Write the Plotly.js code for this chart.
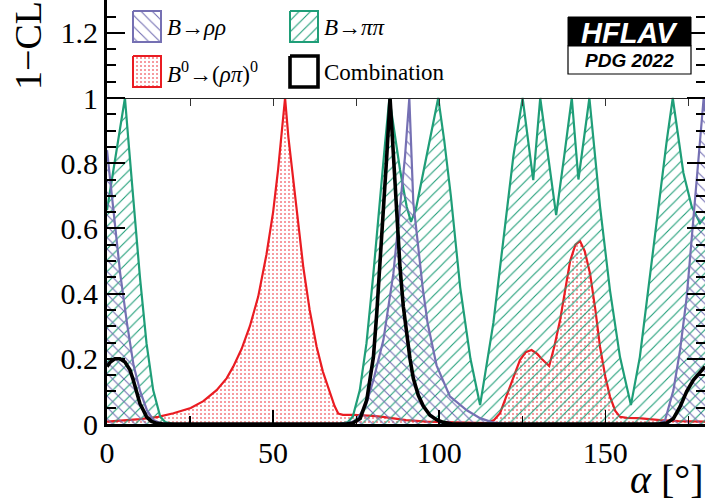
<!DOCTYPE html>
<html>
<head>
<meta charset="utf-8">
<script src="https://cdn.plot.ly/plotly-3.0.1.min.js"></script>
<style>
  html, body { margin: 0; padding: 0; background: #ffffff; }
  #chart { width: 705px; height: 504px; }
</style>
</head>
<body>
<div id="chart"></div>
<script>
// ---- 1-CL scans in alpha (degrees) ----
const pipiAlpha = [0, 1.8, 3.6, 5.4, 6.6, 7.9, 9.9, 11.9, 13.9, 16, 17.5, 20, 70, 72.5, 74, 76.1, 78.1, 80.1, 82.1, 83.6, 85.0, 86.5, 88.2, 90.2, 91.5, 93, 94.2, 97.2, 99.7, 101.5, 103.5, 106.3, 109.4, 112.3, 116.3, 119.3, 122.3, 125.1, 128.3, 130.4, 132.8, 135.2, 137.6, 139.9, 141.9, 145.2, 148.4, 151.4, 154.4, 157.7, 160.4, 163.4, 166.5, 168.5, 170.3, 173.5, 176, 178.5, 180];
const pipiCL = [0.656, 0.77, 0.885, 1.0, 0.85, 0.687, 0.452, 0.247, 0.104, 0.023, 0.006, 0.0, 0.0, 0.006, 0.023, 0.104, 0.247, 0.452, 0.687, 0.85, 1.0, 0.89, 0.78, 0.667, 0.62, 0.66, 0.72, 0.87, 1.0, 0.87, 0.7, 0.42, 0.2, 0.058, 0.31, 0.564, 0.82, 1.0, 0.748, 1.0, 0.82, 0.641, 0.82, 1.0, 0.75, 1.0, 0.667, 0.41, 0.206, 0.058, 0.206, 0.45, 0.72, 0.87, 1.0, 0.77, 0.667, 0.616, 0.636];

const rhorhoAlpha = [0, 2, 4, 6, 8, 10, 12, 14, 16, 18, 70, 73, 75.2, 78, 80.2, 83.2, 86.2, 88.2, 89.7, 91, 92.2, 93.5, 95, 96.5, 99.2, 103.2, 108.3, 112.3, 116, 120, 164, 166.5, 168, 170.5, 172.5, 174.5, 176, 177.5, 179, 179.6, 180];
const rhorhoCL = [0.84, 0.64, 0.46, 0.31, 0.18, 0.1, 0.043, 0.012, 0.003, 0, 0, 0.004, 0.012, 0.06, 0.135, 0.258, 0.462, 0.667, 0.82, 1.0, 0.68, 0.56, 0.42, 0.31, 0.18, 0.085, 0.042, 0.018, 0.005, 0, 0, 0.003, 0.012, 0.104, 0.227, 0.39, 0.564, 0.738, 0.92, 1.0, 0.96];

const rhopiAlpha = [0, 5, 10, 15.4, 20, 25.2, 29, 33, 36, 38, 40.5, 43, 45.5, 48, 50, 51.5, 52.7, 53.6, 54.6, 56.1, 57.5, 59.1, 61, 63.1, 65, 67.1, 68.5, 69.6, 71, 74, 77, 80, 83, 86.2, 90, 96.2, 105, 114.3, 116.5, 118.3, 121.3, 124.3, 126, 127.8, 129.5, 130.8, 133.1, 134.7, 136.4, 138, 139.4, 141, 142.4, 143.8, 145.4, 147, 148.4, 150, 151.4, 153, 154.4, 156.5, 160, 166.5, 172, 180];
const rhopiCL = [0.007, 0.01, 0.015, 0.022, 0.033, 0.049, 0.07, 0.104, 0.14, 0.176, 0.23, 0.30, 0.39, 0.52, 0.65, 0.78, 0.9, 1.0, 0.88, 0.75, 0.61, 0.48, 0.35, 0.237, 0.16, 0.095, 0.055, 0.032, 0.028, 0.028, 0.027, 0.025, 0.022, 0.018, 0.012, 0.007, 0.004, 0.003, 0.012, 0.033, 0.115, 0.196, 0.22, 0.227, 0.215, 0.2, 0.178, 0.24, 0.32, 0.42, 0.50, 0.55, 0.561, 0.53, 0.462, 0.35, 0.237, 0.145, 0.084, 0.04, 0.022, 0.019, 0.018, 0.012, 0.009, 0.007];

const combAlpha = [0, 1, 2.4, 3.9, 5.4, 6.9, 7.9, 8.9, 9.9, 10.9, 11.9, 13.4, 15, 17, 72, 74, 76.2, 78.2, 79.2, 80.2, 81.2, 82.2, 83.2, 84.2, 85.2, 86.2, 87.2, 88.2, 89.2, 90.2, 91.2, 92.2, 93.7, 95.2, 97.2, 99.2, 101.2, 104, 166, 168.5, 170.5, 172.5, 174.5, 176.5, 178.5, 180];
const combCL = [0.176, 0.19, 0.2, 0.2, 0.19, 0.166, 0.135, 0.094, 0.063, 0.043, 0.022, 0.008, 0.002, 0, 0, 0.003, 0.017, 0.074, 0.14, 0.206, 0.34, 0.49, 0.65, 0.82, 1.0, 0.82, 0.64, 0.48, 0.36, 0.27, 0.2, 0.14, 0.088, 0.055, 0.027, 0.013, 0.005, 0, 0, 0.003, 0.017, 0.053, 0.1, 0.135, 0.16, 0.176];

// ---- axis ticks ----
const xTickVals = [0, 50, 100, 150];
const xTickText = ['0', '50', '100', '150'];
const yTickVals = [0, 0.2, 0.4, 0.6, 0.8, 1, 1.2];
const yTickText = ['0', '0.2', '0.4', '0.6', '0.8', '1', '1.2'];

// ---- legend entries ----
const legendLabels = [
  '<i>B</i>→<i>ρρ</i>',
  '<i>B</i>→<i>ππ</i>',
  '<i>B</i><sup>0</sup>→(<i>ρπ</i>)<sup>0</sup>',
  'Combination'
];

// ---- styling ----
const GREEN = '#1f9e78';
const BLUE = '#7570b3';
const RED = '#ea1c22';
const SERIF = '"Liberation Serif", "Times New Roman", serif';
const SANS = '"Liberation Sans", Arial, sans-serif';
const Y_TOP = 1.3006;   // top of the frame in 1-CL units

const styles = {
  rhorho: { color: BLUE, width: 2.2, pattern: { shape: '\\', fgcolor: BLUE, bgcolor: 'rgba(0,0,0,0)', size: 8, solidity: 0.14 } },
  pipi:   { color: GREEN, width: 2.2, pattern: { shape: '/', fgcolor: GREEN, bgcolor: 'rgba(0,0,0,0)', size: 8, solidity: 0.14 } },
  rhopi:  { color: RED, width: 2.2, pattern: { shape: '.', fgcolor: RED, fgopacity: 0.55, bgcolor: 'rgba(0,0,0,0)', size: 4, solidity: 0.22 } },
  comb:   { color: '#000000', width: 3.6, pattern: null }
};

function scanTrace(x, y, st) {
  const t = {
    x: x, y: y, type: 'scatter', mode: 'lines',
    line: { color: st.color, width: st.width, shape: 'linear' },
    showlegend: false, hoverinfo: 'skip', xaxis: 'x', yaxis: 'y'
  };
  if (st.pattern) {
    t.fill = 'tozeroy';
    t.fillcolor = 'rgba(0,0,0,0)';
    t.fillpattern = st.pattern;
  }
  return t;
}

const traces = [
  scanTrace(rhopiAlpha, rhopiCL, styles.rhopi),
  scanTrace(pipiAlpha, pipiCL, styles.pipi),
  scanTrace(rhorhoAlpha, rhorhoCL, styles.rhorho),
  scanTrace(combAlpha, combCL, styles.comb)
];

// ---- legend box (pixel-like overlay axes) ----
const LEG_COLS = [133, 290];
const LEG_ROWS = [11, 56];
const SW_W = 28, SW_H = 31;
const legendStyles = [styles.rhorho, styles.pipi, styles.rhopi, styles.comb];

legendStyles.forEach(function (st, i) {
  const x0 = LEG_COLS[i % 2], y0 = LEG_ROWS[Math.floor(i / 2)];
  const sw = {
    x: [x0, x0 + SW_W, x0 + SW_W, x0, x0],
    y: [y0, y0, y0 + SW_H, y0 + SW_H, y0],
    type: 'scatter', mode: 'lines',
    line: { color: st.color, width: st === styles.comb ? 3.6 : 2 },
    showlegend: false, hoverinfo: 'skip', xaxis: 'x2', yaxis: 'y2'
  };
  if (st.pattern) {
    sw.fill = 'toself';
    sw.fillcolor = 'rgba(0,0,0,0)';
    sw.fillpattern = st.pattern;
  }
  traces.push(sw);
});

// carrier for the tick row along 1-CL = 1
traces.push({ x: [], y: [], type: 'scatter', mode: 'lines', xaxis: 'x3', yaxis: 'y', showlegend: false, hoverinfo: 'skip' });

const annotations = legendLabels.map(function (txt, i) {
  return {
    xref: 'x2', yref: 'y2',
    x: LEG_COLS[i % 2] + SW_W + 4, y: LEG_ROWS[Math.floor(i / 2)] + SW_H / 2 + 1,
    xanchor: 'left', yanchor: 'middle', showarrow: false,
    text: txt, font: { family: SERIF, size: 23, color: '#000' }
  };
});

// HFLAV badge
const LOGO = { x0: 568, x1: 691, y0: 17, ymid: 46, y1: 74 };
annotations.push({
  xref: 'x2', yref: 'y2', x: (LOGO.x0 + LOGO.x1) / 2, y: (LOGO.y0 + LOGO.ymid) / 2 + 1,
  xanchor: 'center', yanchor: 'middle', showarrow: false,
  text: '<b><i>HFLAV</i></b>', font: { family: SANS, size: 29, color: '#ffffff' }
});
annotations.push({
  xref: 'x2', yref: 'y2', x: (LOGO.x0 + LOGO.x1) / 2, y: (LOGO.ymid + LOGO.y1) / 2,
  xanchor: 'center', yanchor: 'middle', showarrow: false,
  text: '<b><i>PDG 2022</i></b>', font: { family: SANS, size: 19, color: '#000000' }
});

// axis titles
annotations.push({
  xref: 'paper', yref: 'paper', x: (28 - 107) / 598, y: (424 - 46) / 424,
  xanchor: 'center', yanchor: 'middle', showarrow: false, textangle: -90,
  text: '1−CL', font: { family: SERIF, size: 38, color: '#000' }
});
annotations.push({
  xref: 'paper', yref: 'paper', x: (667 - 107) / 598, y: (424 - 479) / 424,
  xanchor: 'center', yanchor: 'middle', showarrow: false,
  text: '<i>α</i> [°]', font: { family: SERIF, size: 40, color: '#000' }
});

const shapes = [
  { type: 'rect', xref: 'x2', yref: 'y2', x0: LOGO.x0, x1: LOGO.x1, y0: LOGO.y0, y1: LOGO.ymid,
    fillcolor: '#000000', line: { color: '#000000', width: 1 }, layer: 'above' },
  { type: 'rect', xref: 'x2', yref: 'y2', x0: LOGO.x0, x1: LOGO.x1, y0: LOGO.ymid, y1: LOGO.y1,
    fillcolor: '#ffffff', line: { color: '#000000', width: 1.2 }, layer: 'above' }
];

const layout = {
  width: 705, height: 504,
  margin: { l: 107, r: 0, t: 0, b: 80, pad: 0 },
  paper_bgcolor: '#ffffff', plot_bgcolor: '#ffffff',
  showlegend: false,
  xaxis: {
    range: [0, 180], fixedrange: true,
    tickmode: 'array', tickvals: xTickVals, ticktext: xTickText,
    ticks: 'inside', ticklen: 14, tickwidth: 1.5, tickcolor: '#000',
    minor: { tickmode: 'linear', tick0: 0, dtick: 25, ticks: 'inside', ticklen: 8, tickwidth: 1.2, tickcolor: '#000' },
    showline: true, linecolor: '#000', linewidth: 2.5,
    showgrid: false, zeroline: false,
    tickfont: { family: SERIF, size: 30, color: '#000' }
  },
  yaxis: {
    range: [0, Y_TOP], fixedrange: true,
    tickmode: 'array', tickvals: yTickVals, ticktext: yTickText,
    ticks: 'inside', ticklen: 18, tickwidth: 2, tickcolor: '#000',
    minor: { tickmode: 'linear', tick0: 0, dtick: 0.05, ticks: 'inside', ticklen: 9, tickwidth: 2, tickcolor: '#000' },
    showline: true, linecolor: '#000', linewidth: 3, mirror: 'ticks',
    showgrid: false, zeroline: false,
    tickfont: { family: SERIF, size: 30, color: '#000' }
  },
  xaxis2: { overlaying: 'x', anchor: 'y2', range: [107, 705], visible: false, fixedrange: true },
  yaxis2: { overlaying: 'y', anchor: 'x2', range: [424, 0], visible: false, fixedrange: true },
  xaxis3: {
    overlaying: 'x', anchor: 'free', position: 1 / Y_TOP, side: 'top',
    range: [0, 180], fixedrange: true,
    tickmode: 'linear', tick0: 0, dtick: 25,
    ticks: 'inside', ticklen: 7, tickwidth: 1, tickcolor: '#333',
    showticklabels: false, showline: true, linecolor: '#222', linewidth: 1,
    showgrid: false, zeroline: false
  },
  annotations: annotations,
  shapes: shapes
};

Plotly.newPlot('chart', traces, layout, { staticPlot: true, displayModeBar: false });
</script>
</body>
</html>
